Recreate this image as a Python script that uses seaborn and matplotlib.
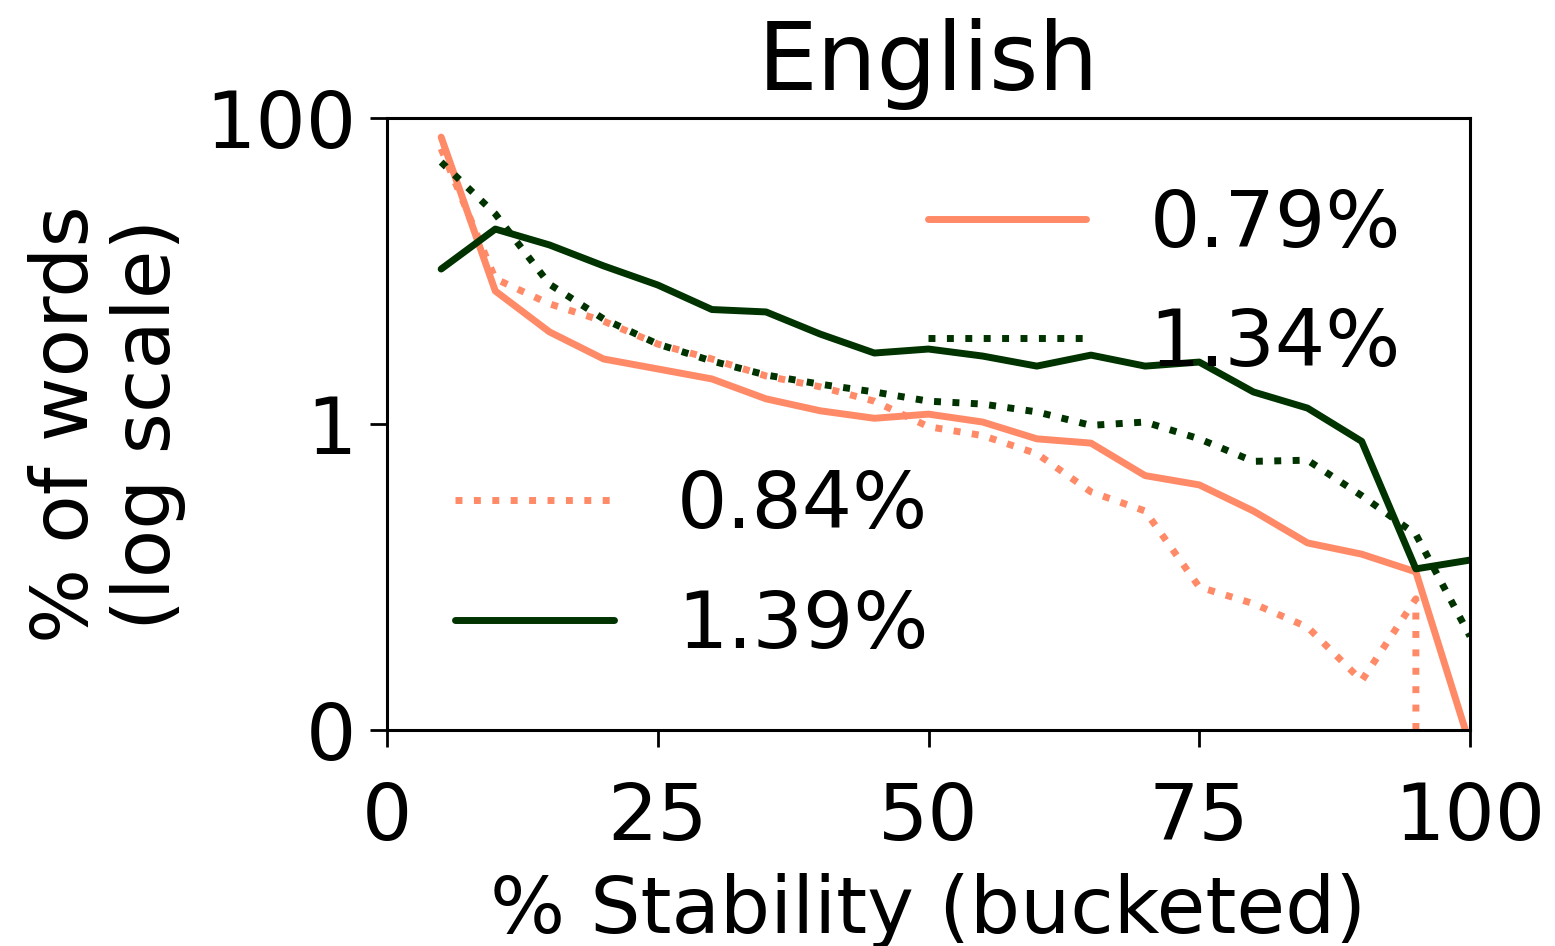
import matplotlib
matplotlib.use("Agg")
import matplotlib.pyplot as plt
import matplotlib.ticker as mticker
import seaborn as sns
import pandas as pd

# ---- data ----
stability = [5, 10, 15, 20, 25, 30, 35, 40, 45, 50, 55, 60, 65, 70, 75, 80, 85, 90, 95, 100]

solid_orange = [75, 7.4, 4.0, 2.66, 2.29, 1.97, 1.46, 1.22, 1.09, 1.16, 1.03, 0.80, 0.75,
                0.46, 0.40, 0.27, 0.167, 0.141, 0.108, 0.008]
dotted_green = [51.5, 23.6, 8.2, 4.86, 3.33, 2.58, 2.09, 1.82, 1.62, 1.41, 1.35, 1.20, 0.98,
                1.03, 0.80, 0.57, 0.58, 0.34, 0.19, 0.041]
dotted_orange = [63, 8.9, 6.1, 4.7, 3.33, 2.66, 2.06, 1.75, 1.41, 0.96, 0.84, 0.64, 0.36,
                 0.27, 0.086, 0.067, 0.047, 0.021, 0.072, 0.0]
solid_green = [10.3, 18.8, 14.8, 10.8, 8.1, 5.6, 5.4, 3.87, 2.91, 3.09, 2.78, 2.39, 2.82,
               2.39, 2.54, 1.62, 1.27, 0.77, 0.113, 0.129]

labels = ["0.79%", "1.34%", "0.84%", "1.39%"]
yticks = [0.01, 1, 100]
ytick_labels = ["0", "1", "100"]
xticks = [0, 25, 50, 75, 100]

ORANGE = "#ff8a68"
GREEN = "#003300"

sns.set_style("white")
plt.rcParams["font.family"] = ["DejaVu Sans"]
plt.rcParams["text.color"] = "black"
plt.rcParams["axes.labelcolor"] = "black"
plt.rcParams["xtick.color"] = "black"
plt.rcParams["ytick.color"] = "black"

fig = plt.figure(figsize=(15.55, 9.46), dpi=100)
ax = fig.add_axes([387 / 1555, 1 - 730 / 946, (1470 - 387) / 1555, (730 - 118) / 946])

series = [
    (solid_orange, ORANGE, "-"),
    (dotted_green, GREEN, ":"),
    (dotted_orange, ORANGE, ":"),
    (solid_green, GREEN, "-"),
]
for (vals, col, ls), lab in zip(series, labels):
    df = pd.DataFrame({"x": stability, "y": vals})
    sns.lineplot(data=df, x="x", y="y", ax=ax, color=col, linestyle=ls,
                 linewidth=5, label=lab, errorbar=None)

ax.set_yscale("log")
ax.set_ylim(0.01, 100)
ax.set_xlim(0, 100)
ax.set_yticks(yticks)
ax.set_yticklabels(ytick_labels)
ax.yaxis.set_minor_locator(mticker.NullLocator())
ax.set_xticks(xticks)
ax.set_xticklabels([str(t) for t in xticks])

FS = 57
ax.tick_params(axis="both", which="major", labelsize=FS, length=12, width=2, color="black",
               labelcolor="black", bottom=True, left=True)
ax.tick_params(axis="x", pad=24)
ax.tick_params(axis="y", pad=10)
for sp in ax.spines.values():
    sp.set_visible(True)
    sp.set_color("black")
    sp.set_linewidth(2.2)

ax.set_xlabel("% Stability (bucketed)", fontsize=FS, labelpad=12, color="black")
ax.set_ylabel("% of words\n(log scale)", fontsize=FS, labelpad=14, linespacing=1.1, color="black")
ax.set_title("English", fontsize=68, pad=20, color="black")

handles, labs = ax.get_legend_handles_labels()
if ax.get_legend():
    ax.get_legend().remove()

leg1 = ax.legend(handles[:2], labs[:2], loc="upper left", bbox_to_anchor=(0.4995, 0.888),
                 frameon=False, fontsize=FS, borderpad=0, borderaxespad=0,
                 handlelength=2.0, handletextpad=0.8, labelspacing=0.55, labelcolor="black")
ax.add_artist(leg1)
ax.legend(handles[2:], labs[2:], loc="upper left", bbox_to_anchor=(0.063, 0.428),
          frameon=False, fontsize=FS, borderpad=0, borderaxespad=0,
          handlelength=2.0, handletextpad=0.8, labelspacing=0.55, labelcolor="black")

fig.savefig("out.png", dpi=100)
